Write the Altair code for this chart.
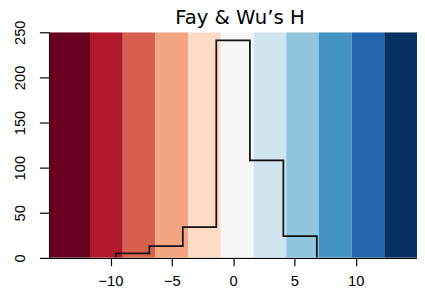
import altair as alt
import pandas as pd

# Background colour bands (RdBu, 11 classes)
band_edges = [-15, -11.67, -9.0, -6.33, -3.67, -1.0, 1.67, 4.33, 7.0, 9.67, 12.33, 15]
band_colors = ["#67001f", "#b2182b", "#d6604d", "#f4a582", "#fddbc7", "#f7f7f7",
               "#d1e5f0", "#92c5de", "#4393c3", "#2166ac", "#053061"]

# Histogram of Fay & Wu's H
bin_edges = [-9.56, -6.83, -4.1, -1.37, 1.37, 4.1, 6.83]
counts = [5, 13, 34, 241, 108, 24]

x_ticks = [-10, -5, 0, 5, 10]
y_ticks = [0, 50, 100, 150, 200, 250]

bands = pd.DataFrame({
    "x0": band_edges[:-1],
    "x1": band_edges[1:],
    "color": band_colors,
})

# step outline points
sx = [bin_edges[0]] + bin_edges
sy = [0] + counts + [0]
steps = pd.DataFrame({"x": sx, "y": sy, "order": list(range(len(sx)))})

xscale = alt.Scale(domain=[-15, 15], nice=False, zero=False)
yscale = alt.Scale(domain=[0, 250], nice=False)

FONT = "Liberation Sans"

rects = alt.Chart(bands).mark_rect(clip=True).encode(
    x=alt.X("x0:Q", scale=xscale,
            axis=alt.Axis(values=x_ticks, title=None, grid=False, tickSize=8,
                          labelFontSize=15, labelFont=FONT, labelColor="black",
                          labelPadding=8, domainColor="black", domainWidth=1.5,
                          tickColor="black", tickWidth=1.2, labelFlush=False)),
    x2="x1:Q",
    y=alt.Y(datum=0, scale=yscale,
            axis=alt.Axis(values=y_ticks, title=None, grid=False, tickSize=10,
                          labelFontSize=15, labelFont=FONT, labelColor="black",
                          labelAngle=270, labelAlign="center", labelBaseline="bottom",
                          labelPadding=12, domainColor="black", domainWidth=1.5,
                          tickColor="black", tickWidth=1.2, labelFlush=False)),
    y2=alt.Y2(datum=250),
    color=alt.Color("color:N", scale=None),
)

line = alt.Chart(steps).mark_line(interpolate="step-after", color="#111111",
                                  strokeWidth=1.8, clip=True).encode(
    x=alt.X("x:Q", scale=xscale),
    y=alt.Y("y:Q", scale=yscale),
    order="order:Q",
)

chart = alt.layer(rects, line).properties(
    width=375,
    height=230,
    title=alt.TitleParams("Fay & Wu’s H", fontSize=20, font="DejaVu Sans", fontWeight="normal",
                          anchor="middle", frame="group",
                          dx=7, offset=-8, color="black"),
    padding={"left": 42, "top": 22, "right": 0, "bottom": 30},
    autosize=alt.AutoSizeParams(type="none"),
    background="white",
).configure_view(stroke=None)

chart.save("out.html", embed_options={"renderer": "svg", "actions": False})
